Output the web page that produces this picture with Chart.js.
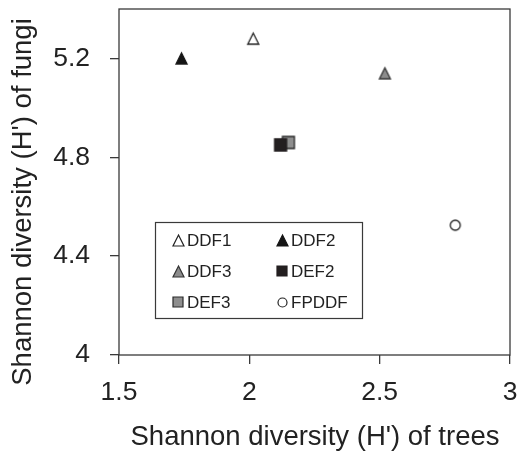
<!DOCTYPE html>
<html>
<head>
<meta charset="utf-8">
<script src="https://cdn.jsdelivr.net/npm/chart.js@4/dist/chart.umd.min.js"></script>
<style>
  html, body { margin: 0; padding: 0; background: #fff; }
  #wrap { width: 519px; height: 452px; }
</style>
</head>
<body>
<div id="wrap"><canvas id="scatter"></canvas></div>
<script>
// forest types with Shannon diversity of trees (x) and fungi (y)
const sites = ['DDF1', 'DDF2', 'DDF3', 'DEF2', 'DEF3', 'FPDDF'];
const treeH = [2.015, 1.74, 2.52, 2.12, 2.15, 2.79];
const fungiH = [5.28, 5.20, 5.14, 4.85, 4.86, 4.525];
const xTicks = [1.5, 2, 2.5, 3];
const yTicks = [4, 4.4, 4.8, 5.2];

const FONT = "'Liberation Sans', Arial, sans-serif";
const INK = '#222';

// symbol for each site: shape, fill, outline
const symbols = [
  ['tri', '#ffffff', '#222'],
  ['tri', '#151515', '#151515'],
  ['tri', '#8c8c8c', '#333'],
  ['sq', '#231f20', '#231f20'],
  ['sq', '#8e8e8e', '#2a2a2a'],
  ['circle', '#ffffff', '#222']
];

function marker(shape, fill, stroke, size, lw) {
  const pad = 2;
  const c = document.createElement('canvas');
  c.width = c.height = size + pad * 2;
  const g = c.getContext('2d');
  g.fillStyle = fill;
  g.strokeStyle = stroke;
  g.lineWidth = lw;
  g.beginPath();
  if (shape === 'tri') {
    g.moveTo(pad + size / 2, pad);
    g.lineTo(pad + size, pad + size);
    g.lineTo(pad, pad + size);
    g.closePath();
  } else if (shape === 'sq') {
    g.rect(pad, pad, size, size);
  } else {
    g.arc(pad + size / 2, pad + size / 2, size / 2, 0, Math.PI * 2);
  }
  g.fill();
  g.stroke();
  return c;
}

const bigSize = { tri: 11, sq: 12, circle: 10 };
const smallSize = { tri: 11, sq: 10, circle: 9 };
const pointImgs = symbols.map(s => marker(s[0], s[1], s[2], bigSize[s[0]], 1.3));
const legendImgs = symbols.map(s => marker(s[0], s[1], s[2], smallSize[s[0]], 1.2));

const datasets = sites.map((name, i) => ({
  label: name,
  data: [{ x: treeH[i], y: fungiH[i] }],
  pointStyle: pointImgs[i],
  pointRadius: 7,
  showLine: false
}));

// frame, axis titles and the boxed legend inside the plot
const decor = {
  id: 'decor',
  afterDatasetsDraw(chart) {
    const { ctx, chartArea: a } = chart;
    ctx.save();
    ctx.strokeStyle = '#3a3a3a';
    ctx.lineWidth = 1.3;
    ctx.strokeRect(a.left, a.top, a.right - a.left, a.bottom - a.top);

    ctx.fillStyle = INK;
    ctx.font = '27.5px ' + FONT;
    ctx.textAlign = 'center';
    ctx.textBaseline = 'middle';
    ctx.fillText("Shannon diversity (H') of trees", 315, 437);
    ctx.save();
    ctx.translate(23, 202);
    ctx.rotate(-Math.PI / 2);
    ctx.fillText("Shannon diversity (H') of fungi", 0, 0);
    ctx.restore();

    // legend box
    ctx.lineWidth = 1.2;
    ctx.strokeRect(155.5, 222.5, 207, 96);
    const colMark = [178, 282], colText = [187, 291], rows = [240, 271, 302];
    ctx.font = '17px ' + FONT;
    ctx.textAlign = 'left';
    chart.data.datasets.forEach((ds, i) => {
      const col = i % 2, row = Math.floor(i / 2);
      const img = legendImgs[i];
      ctx.drawImage(img, Math.round(colMark[col] - img.width / 2), Math.round(rows[row] - img.height / 2));
      ctx.fillText(ds.label, colText[col], rows[row] + 1);
    });
    ctx.restore();
  }
};

new Chart(document.getElementById('scatter'), {
  type: 'scatter',
  data: { datasets },
  options: {
    responsive: true,
    maintainAspectRatio: false,
    animation: false,
    layout: { padding: { top: 9, right: 9, left: 0, bottom: 0 } },
    plugins: { legend: { display: false }, tooltip: { enabled: false } },
    scales: {
      x: {
        type: 'linear',
        min: 1.5,
        max: 3,
        afterBuildTicks: s => { s.ticks = xTicks.map(v => ({ value: v })); },
        afterFit: s => { s.height = 97; s.paddingLeft = 0; s.paddingRight = 0; },
        grid: { drawOnChartArea: false, drawTicks: true, tickLength: 9, color: '#3a3a3a', lineWidth: 1.3 },
        border: { display: false },
        ticks: { padding: 13, color: INK, font: { family: FONT, size: 26.5 }, maxRotation: 0, autoSkip: false, callback: v => String(v) }
      },
      y: {
        type: 'linear',
        min: 4,
        max: 5.4,
        afterBuildTicks: s => { s.ticks = yTicks.map(v => ({ value: v })); },
        afterFit: s => { s.width = 119; s.paddingTop = 0; s.paddingBottom = 0; },
        grid: { drawOnChartArea: false, drawTicks: true, tickLength: 9, color: '#3a3a3a', lineWidth: 1.3 },
        border: { display: false },
        ticks: { padding: 20, color: INK, font: { family: FONT, size: 26.5 }, autoSkip: false, callback: v => String(v) }
      }
    }
  },
  plugins: [decor]
});
</script>
</body>
</html>
